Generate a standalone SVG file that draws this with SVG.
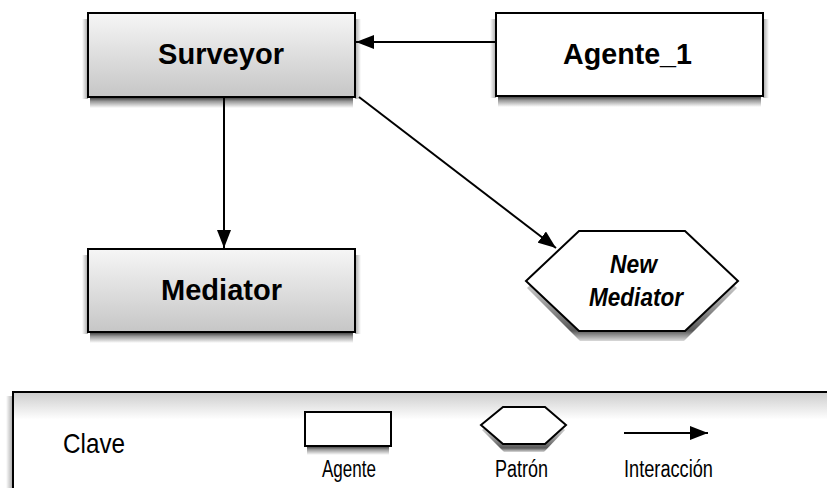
<svg xmlns="http://www.w3.org/2000/svg" width="827" height="488" viewBox="0 0 827 488">
  <defs>
    <linearGradient id="greyFill" x1="0" y1="0" x2="0" y2="1">
      <stop offset="0" stop-color="#f6f6f6"/>
      <stop offset="1" stop-color="#c6c6c6"/>
    </linearGradient>
    <linearGradient id="keyFill" x1="0" y1="0" x2="0" y2="1">
      <stop offset="0" stop-color="#cccccc"/>
      <stop offset="0.25" stop-color="#ffffff"/>
      <stop offset="1" stop-color="#ffffff"/>
    </linearGradient>
    <!-- soft shadow fades used in place of blur filters -->
    <linearGradient id="shadeDown" x1="0" y1="0" x2="0" y2="1">
      <stop offset="0" stop-color="#000" stop-opacity="0.8"/>
      <stop offset="0.4" stop-color="#000" stop-opacity="0.4"/>
      <stop offset="1" stop-color="#000" stop-opacity="0"/>
    </linearGradient>
    <linearGradient id="shadeLeft" x1="1" y1="0" x2="0" y2="0">
      <stop offset="0" stop-color="#000" stop-opacity="0.35"/>
      <stop offset="1" stop-color="#000" stop-opacity="0"/>
    </linearGradient>
    <linearGradient id="shadeRight" x1="0" y1="0" x2="1" y2="0">
      <stop offset="0" stop-color="#000" stop-opacity="0.35"/>
      <stop offset="1" stop-color="#000" stop-opacity="0"/>
    </linearGradient>
    <linearGradient id="hexShade" x1="0" y1="0" x2="0" y2="1">
      <stop offset="0" stop-color="#000" stop-opacity="0"/>
      <stop offset="0.5" stop-color="#000" stop-opacity="0.25"/>
      <stop offset="0.9" stop-color="#000" stop-opacity="0.65"/>
      <stop offset="1" stop-color="#000" stop-opacity="0.15"/>
    </linearGradient>
    <marker id="arrow" viewBox="0 0 18 14" refX="18" refY="7" markerWidth="18" markerHeight="14" markerUnits="userSpaceOnUse" orient="auto">
      <path d="M0,0 L18,7 L0,14 Z" fill="#000"/>
    </marker>
  </defs>
  <style>
    .box { stroke: #000; stroke-width: 2; }
    .keybox { fill: url(#keyFill); stroke: #000; stroke-width: 2; }
    .grey { fill: url(#greyFill); }
    .white { fill: #fff; }
    .sd { fill: url(#shadeDown); }
    .sl { fill: url(#shadeLeft); }
    .sr { fill: url(#shadeRight); }
    .sh { fill: url(#hexShade); }
    .title { font-family: "Liberation Sans", Arial, sans-serif; font-weight: bold; font-size: 29px; fill: #000; text-anchor: middle; }
    .pattern { font-family: "Liberation Sans", Arial, sans-serif; font-weight: bold; font-style: italic; font-size: 25px; fill: #000; text-anchor: middle; }
    .key { font-family: "Liberation Sans", Arial, sans-serif; fill: #000; }
    .link { stroke: #000; stroke-width: 2; fill: none; marker-end: url(#arrow); }
  </style>

  <rect width="827" height="488" fill="#fff"/>

  <g id="surveyor">
    <rect class="sd" x="90" y="97" width="263" height="11"/>
    <rect class="sl" x="82" y="19" width="6" height="80"/>
    <rect class="sr" x="355" y="19" width="6" height="80"/>
    <rect class="box grey" x="88" y="13" width="267" height="84"/>
    <text class="title" x="221" y="64" textLength="126" lengthAdjust="spacingAndGlyphs">Surveyor</text>
  </g>

  <g id="agente_1">
    <rect class="sd" x="498" y="96" width="263" height="11"/>
    <rect class="sl" x="490" y="19" width="6" height="79"/>
    <rect class="sr" x="763" y="19" width="6" height="79"/>
    <rect class="box white" x="496" y="13" width="267" height="83"/>
    <text class="title" x="627.5" y="64" textLength="129" lengthAdjust="spacingAndGlyphs">Agente_1</text>
  </g>

  <g id="mediator">
    <rect class="sd" x="90" y="332" width="263" height="11"/>
    <rect class="sl" x="82" y="255" width="6" height="79"/>
    <rect class="sr" x="355" y="255" width="6" height="79"/>
    <rect class="box grey" x="88" y="249" width="267" height="83"/>
    <text class="title" x="221.5" y="300" textLength="121" lengthAdjust="spacingAndGlyphs">Mediator</text>
  </g>

  <g id="new_mediator">
    <polygon class="sh" points="527,288 580,238 684,238 737,288 684,341 580,341"/>
    <polygon class="box white" points="526,281 579,231 685,231 738,281 685,331 579,331"/>
    <text class="pattern" x="633.5" y="273" textLength="47" lengthAdjust="spacingAndGlyphs">New</text>
    <text class="pattern" x="636" y="306" textLength="94" lengthAdjust="spacingAndGlyphs">Mediator</text>
  </g>

  <g id="connectors">
    <line class="link" x1="496" y1="42" x2="356" y2="42"/>
    <line class="link" x1="224" y1="97" x2="224" y2="248"/>
    <line class="link" x1="359" y1="97" x2="556" y2="248"/>
  </g>

  <g id="key">
    <rect class="sl" x="6" y="396" width="7" height="92"/>
    <rect class="keybox" x="13" y="392" width="830" height="110"/>
    <text class="key" x="63" y="453" font-size="28" textLength="62" lengthAdjust="spacingAndGlyphs">Clave</text>
    <rect class="sd" x="307" y="446" width="82" height="9"/>
    <rect class="box white" x="305" y="412" width="86" height="34"/>
    <text class="key" x="322" y="477" font-size="23" textLength="54" lengthAdjust="spacingAndGlyphs">Agente</text>
    <polygon class="sh" points="482,430 504,412 544,412 565,430 544,452 504,452"/>
    <polygon class="box white" points="481,425 503,407 545,407 566,425 545,444 503,444"/>
    <text class="key" x="495" y="477" font-size="23" textLength="53" lengthAdjust="spacingAndGlyphs">Patrón</text>
    <line class="link" x1="624" y1="433" x2="708" y2="433"/>
    <text class="key" x="624" y="477" font-size="23" textLength="89" lengthAdjust="spacingAndGlyphs">Interacción</text>
  </g>
</svg>
